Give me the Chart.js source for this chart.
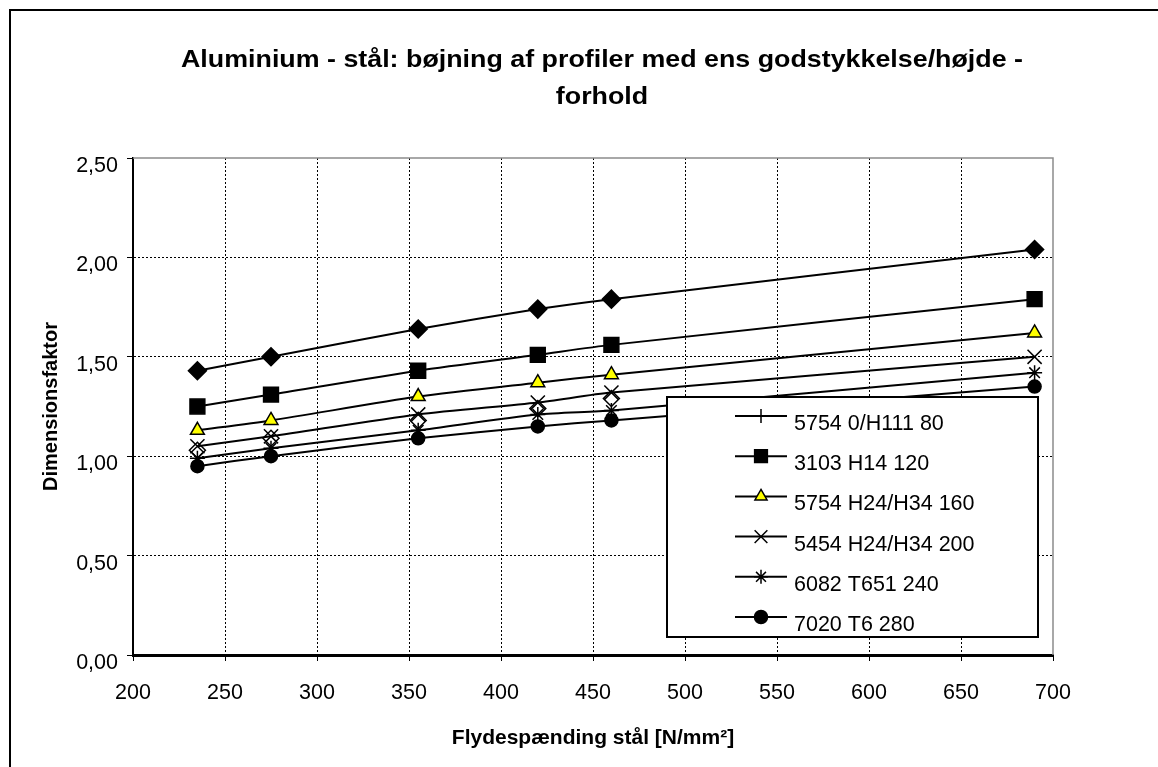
<!DOCTYPE html>
<html>
<head>
<meta charset="utf-8">
<script src="https://cdn.jsdelivr.net/npm/chart.js@4/dist/chart.umd.min.js"></script>
<style>
  html, body { margin: 0; padding: 0; background: #fff; }
  #wrap { width: 1158px; height: 767px; }
</style>
</head>
<body>
<div id="wrap"><canvas id="chartCanvas" width="1158" height="767"></canvas></div>
<script>
const FONT = '"Liberation Sans", Arial, sans-serif';

// flydespænding stål [N/mm2]
const steelYield = [235, 275, 355, 420, 460, 690];
// dimensionsfaktor per alloy
const alu5754_O   = [1.43, 1.50, 1.64, 1.74, 1.79, 2.04];
const alu3103     = [1.25, 1.31, 1.43, 1.51, 1.56, 1.79];
const alu5754_H24 = [1.13, 1.18, 1.30, 1.37, 1.41, 1.62];
const alu5454     = [1.05, 1.10, 1.21, 1.27, 1.32, 1.50];
const alu6082     = [0.99, 1.04, 1.13, 1.21, 1.23, 1.42];
const alu7020     = [0.95, 1.00, 1.09, 1.15, 1.18, 1.35];
// stray open diamond markers seen in the plot
const openDiamonds = [1.03, 1.09, 1.18, 1.24, 1.29];

const seriesNames = ["5754 0/H111 80", "3103 H14 120", "5754 H24/H34 160",
                     "5454 H24/H34 200", "6082 T651 240", "7020 T6 280"];
const xTicks = [200, 250, 300, 350, 400, 450, 500, 550, 600, 650, 700];
const yTicks = [0, 0.5, 1, 1.5, 2, 2.5];

function toPoints(ys){
    return ys.map((y, i) => ({x: steelYield[i], y: y}));
}

function makeSeries(label, ys, style, radius, fill){
    return {
        label: label,
        data: toPoints(ys),
        borderColor: "#000",
        borderWidth: 2,
        tension: 0.25,
        pointStyle: style,
        pointRadius: radius,
        pointHoverRadius: radius,
        pointBackgroundColor: fill,
        pointBorderColor: "#000",
        pointBorderWidth: 1.5,
        clip: false
    };
}

// legend markers as drawn in the legend box
const legendMarks = [
    {style: "cross",    radius: 7,   fill: "#000"},
    {style: "rect",     radius: 9,   fill: "#000"},
    {style: "triangle", radius: 7,   fill: "#ffff00"},
    {style: "crossRot", radius: 9,   fill: "#000"},
    {style: "star",     radius: 7,   fill: "#000"},
    {style: "circle",   radius: 6.5, fill: "#000"}
];

function stretchText(ctx, text, cx, y, width){
    let w = ctx.measureText(text).width;
    ctx.save();
    ctx.translate(cx, y);
    ctx.scale(width / w, 1);
    ctx.fillText(text, 0, 0);
    ctx.restore();
}

const framePlugin = {
    id: "frame",
    beforeDraw(chart){
        const ctx = chart.ctx;
        ctx.save();
        ctx.fillStyle = "#fff";
        ctx.fillRect(0, 0, chart.width, chart.height);
        ctx.strokeStyle = "#000";
        ctx.lineWidth = 2;
        ctx.strokeRect(10, 10, 1400, 1000);
        // title
        ctx.fillStyle = "#000";
        ctx.font = "bold 24px " + FONT;
        ctx.textAlign = "center";
        ctx.textBaseline = "alphabetic";
        const line1 = "Aluminium - stål: bøjning af profiler med ens godstykkelse/højde -";
        const sx = 842 / ctx.measureText(line1).width;
        stretchText(ctx, line1, 602, 67, 842);
        stretchText(ctx, "forhold", 602, 104, ctx.measureText("forhold").width * sx);
        ctx.restore();
    },
    beforeDatasetsDraw(chart){
        const a = chart.chartArea;
        const ctx = chart.ctx;
        ctx.save();
        ctx.strokeStyle = "#8c8c8c";
        ctx.lineWidth = 1.5;
        ctx.beginPath();
        ctx.moveTo(a.left, a.top);
        ctx.lineTo(a.right, a.top);
        ctx.lineTo(a.right, a.bottom);
        ctx.stroke();
        ctx.restore();
    },
    afterDraw(chart){
        const ctx = chart.ctx;
        ctx.save();
        const bx = 667, by = 397, bw = 371, bh = 240;
        ctx.fillStyle = "#fff";
        ctx.fillRect(bx, by, bw, bh);
        ctx.strokeStyle = "#000";
        ctx.lineWidth = 2;
        ctx.strokeRect(bx, by, bw, bh);
        ctx.font = "21.5px " + FONT;
        ctx.textAlign = "left";
        ctx.textBaseline = "middle";
        seriesNames.forEach((name, i) => {
            const y = 416 + i * 40.2;
            ctx.strokeStyle = "#000";
            ctx.lineWidth = 2;
            ctx.beginPath();
            ctx.moveTo(735, y);
            ctx.lineTo(787, y);
            ctx.stroke();
            const m = legendMarks[i];
            ctx.fillStyle = m.fill;
            ctx.lineWidth = 1.5;
            Chart.helpers.drawPoint(ctx, {pointStyle: m.style, radius: m.radius, borderWidth: 1.5, rotation: 0}, 761, y);
            ctx.fillStyle = "#000";
            ctx.fillText(name, 794, y + 8);
        });
        ctx.restore();
    }
};

const ctx = document.getElementById("chartCanvas").getContext("2d");
new Chart(ctx, {
    type: "line",
    data: {
        datasets: [
            makeSeries(seriesNames[0], alu5754_O, "rectRot", 9, "#000"),
            makeSeries(seriesNames[1], alu3103, "rect", 10.5, "#000"),
            makeSeries(seriesNames[2], alu5754_H24, "triangle", 8, "#ffff00"),
            makeSeries(seriesNames[3], alu5454, "crossRot", 10, "#000"),
            makeSeries(seriesNames[4], alu6082, "star", 7.5, "#000"),
            makeSeries(seriesNames[5], alu7020, "circle", 6.5, "#000"),
            {
                label: "",
                data: toPoints(openDiamonds),
                showLine: false,
                pointStyle: "rectRot",
                pointRadius: 8,
                pointBackgroundColor: "#fff",
                pointBorderColor: "#000",
                pointBorderWidth: 1.5,
                clip: false
            }
        ]
    },
    options: {
        responsive: false,
        animation: false,
        events: [],
        layout: { padding: { top: 158, right: 105, left: 0, bottom: 0 } },
        plugins: {
            legend: { display: false },
            title: { display: false },
            tooltip: { enabled: false }
        },
        scales: {
            x: {
                type: "linear",
                min: 200,
                max: 700,
                afterFit: s => { s.height = 112; },
                afterBuildTicks: s => { s.ticks = xTicks.map(v => ({value: v})); },
                ticks: {
                    color: "#000",
                    font: { family: FONT, size: 21.5 },
                    padding: 19,
                    maxRotation: 0
                },
                grid: {
                    color: c => (c.tick && (c.tick.value === 700 || c.tick.value === 200)) ? "rgba(0,0,0,0)" : "#000",
                    tickColor: "#000",
                    tickBorderDash: [],
                    tickLength: 6,
                    lineWidth: 1
                },
                border: { display: true, color: "#000", width: 3, dash: [2, 2] },
                title: {
                    display: true,
                    text: "Flydespænding stål [N/mm²]",
                    color: "#000",
                    font: { family: FONT, size: 21, weight: "bold" },
                    padding: { top: 0, bottom: 16 }
                }
            },
            y: {
                min: 0,
                max: 2.5,
                afterFit: s => { s.width = 133; },
                afterBuildTicks: s => { s.ticks = yTicks.map(v => ({value: v})); },
                ticks: {
                    color: "#000",
                    font: { family: FONT, size: 21.5 },
                    padding: 9,
                    labelOffset: 8,
                    callback: v => v.toFixed(2).replace(".", ",")
                },
                grid: {
                    color: c => (c.tick && (c.tick.value === 2.5 || c.tick.value === 0)) ? "rgba(0,0,0,0)" : "#000",
                    tickColor: "#000",
                    tickBorderDash: [],
                    tickLength: 6,
                    lineWidth: 1
                },
                border: { display: true, color: "#000", width: 2, dash: [2, 2] },
                title: {
                    display: true,
                    text: "Dimensionsfaktor",
                    color: "#000",
                    font: { family: FONT, size: 20, weight: "bold" },
                    padding: { top: 39, bottom: 0 }
                }
            }
        }
    },
    plugins: [framePlugin]
});
</script>
</body>
</html>
